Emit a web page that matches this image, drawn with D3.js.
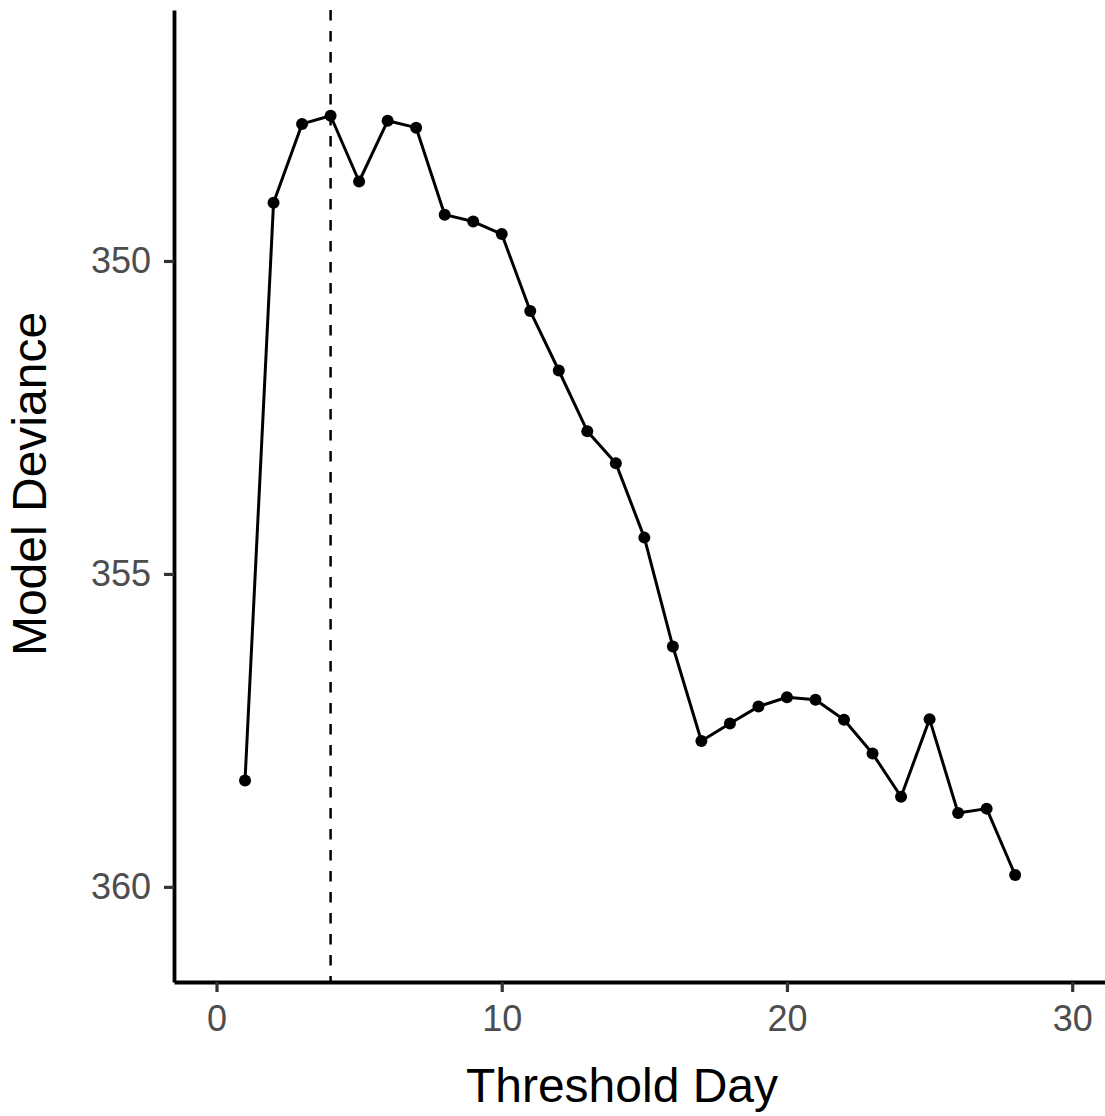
<!DOCTYPE html>
<html>
<head>
<meta charset="utf-8">
<script src="https://cdn.jsdelivr.net/npm/d3@7"></script>
<style>
  html, body { margin: 0; padding: 0; background: #fff; }
  svg { display: block; }
</style>
</head>
<body>
<svg id="chart" width="1105" height="1116"></svg>
<script>
// Model deviance for each candidate threshold day
const thresholdDays = [1, 2, 3, 4, 5, 6, 7, 8, 9, 10, 11, 12, 13, 14, 15, 16, 17, 18, 19, 20, 21, 22, 23, 24, 25, 26, 27, 28];
const deviance = [358.30, 349.07, 347.81, 347.68, 348.73, 347.76, 347.87, 349.26, 349.37, 349.57,
                  350.80, 351.75, 352.72, 353.23, 354.42, 356.16, 357.67, 357.39, 357.12, 356.97,
                  357.01, 357.33, 357.87, 358.56, 357.32, 358.82, 358.75, 359.81];
const bestDay = 4;
const xTicks = [0, 10, 20, 30];
const yTicks = [350, 355, 360];

const svg = d3.select("#chart");
const panel = { left: 174, right: 1105, top: 10, bottom: 982 };

const x = d3.scaleLinear().domain([-1.49, 31.15]).range([panel.left, panel.right]);
// deviance increases downward
const y = d3.scaleLinear().domain([345.99, 361.52]).range([panel.top, panel.bottom]);

const data = thresholdDays.map((d, i) => ({ day: d, dev: deviance[i] }));

// vertical reference line at the selected threshold
svg.append("line")
  .attr("x1", x(bestDay)).attr("x2", x(bestDay))
  .attr("y1", panel.top).attr("y2", panel.bottom)
  .attr("stroke", "#000").attr("stroke-width", 2.5)
  .attr("stroke-dasharray", "10.5,10.5");

// connecting line
svg.append("path")
  .datum(data)
  .attr("fill", "none")
  .attr("stroke", "#000")
  .attr("stroke-width", 3)
  .attr("stroke-linejoin", "round")
  .attr("d", d3.line().x(d => x(d.day)).y(d => y(d.dev)));

// points
svg.append("g").selectAll("circle")
  .data(data)
  .join("circle")
  .attr("cx", d => x(d.day))
  .attr("cy", d => y(d.dev))
  .attr("r", 6)
  .attr("fill", "#000");

// axes
const xAxis = svg.append("g")
  .attr("transform", `translate(0,${panel.bottom})`)
  .call(d3.axisBottom(x).tickValues(xTicks).tickFormat(d3.format("d")).tickSize(10).tickPadding(13).tickSizeOuter(0));
const yAxis = svg.append("g")
  .attr("transform", `translate(${panel.left},0)`)
  .call(d3.axisLeft(y).tickValues(yTicks).tickFormat(d3.format("d")).tickSize(10).tickPadding(13).tickSizeOuter(0));

[xAxis, yAxis].forEach(g => {
  g.select(".domain").attr("stroke", "#000").attr("stroke-width", 3.8);
  g.selectAll(".tick line").attr("stroke", "#333").attr("stroke-width", 3.2);
  g.selectAll(".tick text")
    .attr("fill", "#4d4d4d")
    .style("font-family", "'Liberation Sans', Arial, sans-serif")
    .style("font-size", "36px");
});

// axis titles
svg.append("text")
  .attr("x", 622)
  .attr("y", 1102)
  .attr("text-anchor", "middle")
  .style("font-family", "'Liberation Sans', Arial, sans-serif")
  .style("font-size", "48px")
  .attr("fill", "#000")
  .text("Threshold Day");

svg.append("text")
  .attr("transform", `translate(46,${(panel.top + panel.bottom) / 2 - 12}) rotate(-90)`)
  .attr("text-anchor", "middle")
  .style("font-family", "'Liberation Sans', Arial, sans-serif")
  .style("font-size", "48px")
  .attr("fill", "#000")
  .text("Model Deviance");
</script>
</body>
</html>
